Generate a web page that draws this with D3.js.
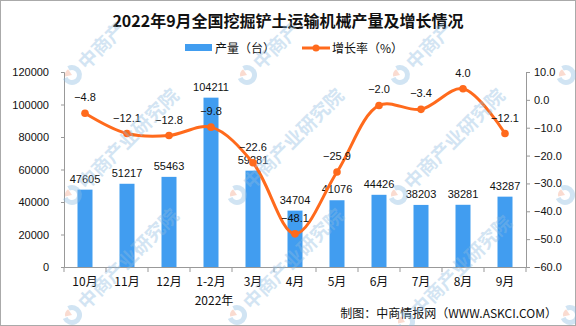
<!DOCTYPE html>
<html><head><meta charset="utf-8">
<script src="https://cdn.jsdelivr.net/npm/d3@7"></script>
<style>body{margin:0;background:#fff}svg{display:block}</style>
</head><body><svg id="c" width="576" height="326"></svg>
<script>
const categories = ["10月","11月","12月","1-2月","3月","4月","5月","6月","7月","8月","9月"];
const production = [47605,51217,55463,104211,59281,34704,41076,44426,38203,38281,43287];
const growth = [-4.8,-12.1,-12.8,-9.8,-22.6,-48.1,-25.9,-2.0,-3.4,4.0,-12.1];
const leftTicks = [0,20000,40000,60000,80000,100000,120000];
const rightTicks = [10,0,-10,-20,-30,-40,-50,-60];
// watermark spots: [x, y, visible text]
const watermarkSpots = [[72,75,"中商产"],[247,75,"中商产"],[400,75,"中商产"],[566,75,""],
  [72,195,"中商产业研究院"],[237,195,"中商产业研究院"],[398,195,"中商产业研究院"],[565,195,""],
  [72,315,"中商产业研究院"],[237,315,"中商产业研究院"],[405,322,"中商产业研究院"],[570,315,""]];

const svg = d3.select("#c");
const W=576,H=326, L=64, R=526, T=72, B=267;
const numFont = "'Liberation Sans', 'DejaVu Sans', sans-serif";
const cjk = "'Noto Sans CJK SC', sans-serif";
const barColor = "#419df0", lineColor = "#ff6a1c", axisColor = "#999";

svg.append("rect").attr("x",0.5).attr("y",0.5).attr("width",W-1).attr("height",H-1).attr("fill","#fff").attr("stroke","#aaa");

svg.append("text").attr("x",288).attr("y",27).attr("text-anchor","middle")
 .attr("font-family",cjk).attr("font-weight","bold").attr("font-size",16).attr("fill","#111")
 .text("2022年9月全国挖掘铲土运输机械产量及增长情况");

// legend
svg.append("rect").attr("x",185).attr("y",44).attr("width",27).attr("height",7).attr("fill",barColor);
svg.append("text").attr("x",215).attr("y",52.5).attr("font-family",cjk).attr("font-size",12).attr("fill","#111").text("产量（台）");
svg.append("line").attr("x1",302).attr("x2",330).attr("y1",48).attr("y2",48).attr("stroke",lineColor).attr("stroke-width",3);
svg.append("circle").attr("cx",316).attr("cy",48).attr("r",3.5).attr("fill",lineColor);
svg.append("text").attr("x",332).attr("y",52.5).attr("font-family",cjk).attr("font-size",12).attr("fill","#111").text("增长率（%）");

const x = d3.scaleBand().domain(categories).range([L,R]);
const yL = d3.scaleLinear().domain([0,120000]).range([B,T]);
const yR = d3.scaleLinear().domain([-60,10]).range([B,T]);

// axes
const gl = svg.append("g").attr("transform",`translate(${L},0)`)
 .call(d3.axisLeft(yL).tickValues(leftTicks).tickSize(3).tickPadding(12).tickFormat(d3.format("d")));
const gr = svg.append("g").attr("transform",`translate(${R},0)`)
 .call(d3.axisRight(yR).tickValues(rightTicks).tickSize(4).tickPadding(4).tickFormat(d3.format(".1f")));
const gb = svg.append("g").attr("transform",`translate(0,${B})`)
 .call(d3.axisBottom(x).tickSize(0).tickPadding(10));
[gl,gr,gb].forEach(g=>{
  g.select(".domain").attr("stroke",axisColor);
  g.selectAll(".tick line").attr("stroke",axisColor);
  g.selectAll("text").attr("fill","#111").attr("font-size",11).attr("font-family",numFont);
});
gb.selectAll("text").attr("font-family",cjk).attr("font-size",12);
gb.selectAll(".sep").data(categories.concat([null])).enter().append("line")
 .attr("x1",(d,i)=>L+i*x.step()).attr("x2",(d,i)=>L+i*x.step())
 .attr("y1",0).attr("y2",5).attr("stroke",axisColor);

svg.append("text").attr("x",x("1-2月")+x.bandwidth()/2+3).attr("y",305).attr("text-anchor","middle")
 .attr("font-family",cjk).attr("font-size",12).attr("fill","#111").text("2022年");

// bars
const bw = 15;
svg.selectAll(".bar").data(production).enter().append("rect")
 .attr("x",(d,i)=>x(categories[i])+x.bandwidth()/2-bw/2)
 .attr("y",d=>yL(d)).attr("width",bw).attr("height",d=>B-yL(d)).attr("fill",barColor);
svg.selectAll(".bl").data(production).enter().append("text")
 .attr("x",(d,i)=>x(categories[i])+x.bandwidth()/2).attr("y",d=>yL(d)-7)
 .attr("text-anchor","middle").attr("font-family",numFont).attr("font-size",11).attr("fill","#111").text(d=>d);

// line
const pts = growth.map((d,i)=>[x(categories[i])+x.bandwidth()/2, yR(d)]);
svg.append("path").attr("d",d3.line().curve(d3.curveCatmullRom.alpha(0.5))(pts))
 .attr("fill","none").attr("stroke",lineColor).attr("stroke-width",3);
svg.selectAll(".pt").data(pts).enter().append("circle")
 .attr("cx",d=>d[0]).attr("cy",d=>d[1]).attr("r",3.8).attr("fill",lineColor);
svg.selectAll(".ll").data(growth).enter().append("text")
 .attr("x",(d,i)=>pts[i][0]).attr("y",(d,i)=>pts[i][1]-12)
 .attr("text-anchor","middle").attr("font-family",numFont).attr("font-size",11).attr("fill","#111")
 .text(d=>d.toFixed(1).replace("-","−"));

svg.append("text").attr("x",557).attr("y",318).attr("text-anchor","end")
 .attr("font-family",cjk).attr("font-size",12).attr("fill","#111").text("制图：中商情报网（WWW.ASKCI.COM）");

// watermarks
const wm = svg.append("g").attr("pointer-events","none");
watermarkSpots.forEach(([cx,cy,t])=>{
  const g = wm.append("g").attr("transform",`translate(${cx},${cy}) rotate(-45)`);
  g.append("path").attr("d",d3.arc()({innerRadius:5,outerRadius:10,startAngle:0.3,endAngle:Math.PI*2-1.2}))
   .attr("fill","#8dbbe0").attr("opacity",0.4);
  g.append("path").attr("d",d3.arc()({innerRadius:0,outerRadius:7,startAngle:-1.0,endAngle:0.2}))
   .attr("fill","#f3a58a").attr("opacity",0.4);
  if (t) g.append("text").attr("x",13).attr("y",7).attr("font-family",cjk).attr("font-weight","bold").attr("font-size",19)
   .attr("fill","#8dbbe0").attr("opacity",0.38).text(t);
});
</script></body></html>
